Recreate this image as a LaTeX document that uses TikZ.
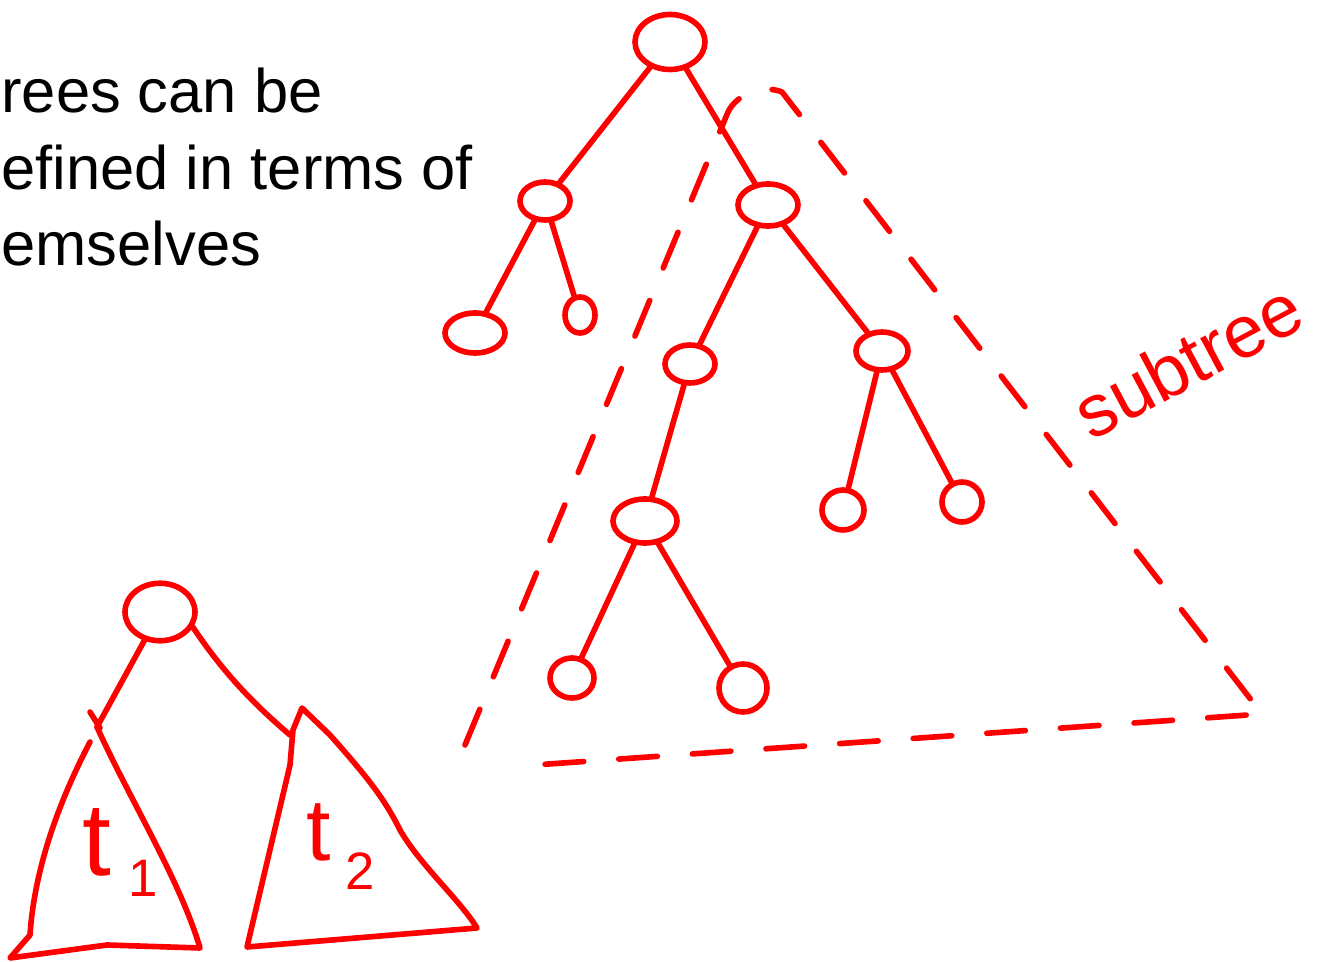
\documentclass[tikz,border=0pt]{standalone}
\usepackage{fontspec}
\setmainfont{Liberation Sans}
\usetikzlibrary{shapes.geometric}

\begin{document}
\begin{tikzpicture}[x=0.02cm, y=-0.02cm,
  pen/.style={red, line width=3.2pt, line cap=round, line join=round},
  vertex/.style={ellipse, draw=red, line width=3.2pt, inner sep=0pt},
  edge/.style={pen},
  subtri/.style={pen, dash pattern=on 22pt off 20pt},
  intro/.style={anchor=base west, inner sep=0pt, font=\fontsize{35}{44}\selectfont}
]
\useasboundingbox (0,0) rectangle (1326,962);

% text at the top left
\node[intro] (line1) at (1,113) {rees can be};
\node[intro] (line2) at (1,190) {efined in terms of};
\node[intro] (line3) at (1,266) {emselves};

% the big tree
\node[vertex, minimum width=1.4cm, minimum height=1.1cm] (root) at (670,42) {};
\node[vertex, minimum width=1.0cm, minimum height=0.76cm] (a) at (545,201) {};
\node[vertex, minimum width=1.2cm, minimum height=0.84cm] (b) at (768,205) {};
\node[vertex, minimum width=1.2cm, minimum height=0.8cm] (aa) at (475,333) {};
\node[vertex, minimum width=0.6cm, minimum height=0.72cm] (ab) at (580,315) {};
\node[vertex, minimum width=1.0cm, minimum height=0.76cm] (c) at (690,364) {};
\node[vertex, minimum width=1.04cm, minimum height=0.76cm] (d) at (882,351) {};
\node[vertex, minimum width=1.28cm, minimum height=0.88cm] (e) at (645,521) {};
\node[vertex, minimum width=0.84cm, minimum height=0.8cm] (da) at (843,510) {};
\node[vertex, minimum width=0.8cm, minimum height=0.8cm] (db) at (962,502) {};
\node[vertex, minimum width=0.88cm, minimum height=0.8cm] (ea) at (572,678) {};
\node[vertex, minimum width=0.96cm, minimum height=0.96cm] (eb) at (743,688) {};

\draw[edge] (root) -- (a);
\draw[edge] (root) -- (b);
\draw[edge] (a) -- (aa);
\draw[edge] (a) -- (ab);
\draw[edge] (b) -- (c);
\draw[edge] (b) -- (d);
\draw[edge] (c) -- (e);
\draw[edge] (d) -- (da);
\draw[edge] (d) -- (db);
\draw[edge] (e) -- (ea);
\draw[edge] (e) -- (eb);

% dashed subtree outline
\draw[subtri] (465,745) -- (728,112) .. controls (738,92) and (765,85) .. (782,92)
  -- (1262,714) -- (520,766);
\node[red, rotate=28, inner sep=0pt, font=\fontsize{42}{42}\selectfont] (subtree) at (1188,360) {subtree};

% small tree with two subtrees
\node[vertex, minimum width=1.4cm, minimum height=1.15cm] (sroot) at (160,612) {};
\coordinate (t1top) at (97,727);
\coordinate (t2top) at (290,735);
\draw[edge] (sroot) -- (t1top);
\draw[edge] (sroot.-25) .. controls (225,675) and (255,705) .. (t2top);
\draw[pen] (90,712) -- (100,728);

\draw[pen] (97,727) .. controls (130,800) and (180,880) .. (200,948) -- (107,945)
  -- (10,958) -- (30,935) .. controls (35,860) and (65,790) .. (90,742);
\draw[pen] (302,708) -- (330,735) .. controls (370,780) and (385,800) .. (400,830)
  .. controls (420,865) and (460,900) .. (477,928) -- (247,947) -- (290,765)
  -- (293,730) -- cycle;

\node[red, inner sep=0pt, font=\fontsize{59}{59}\selectfont, anchor=base west] (tone) at (82,875)
  {t\,\raisebox{-12pt}{\fontsize{30}{30}\selectfont 1}};
\node[red, inner sep=0pt, font=\fontsize{50}{50}\selectfont, anchor=base west] (ttwo) at (306,860)
  {t\,\raisebox{-17pt}{\fontsize{30}{30}\selectfont 2}};
\end{tikzpicture}
\end{document}
